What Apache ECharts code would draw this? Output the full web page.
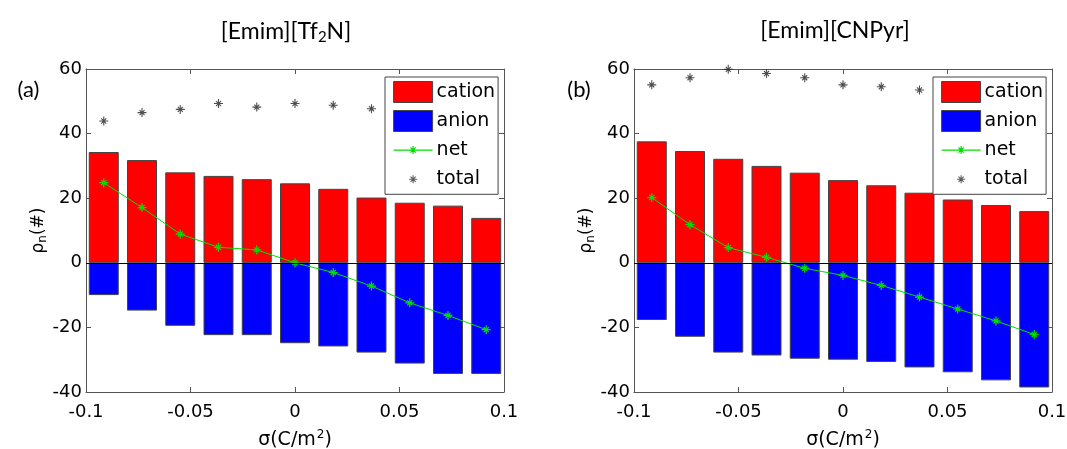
<!DOCTYPE html>
<html>
<head>
<meta charset="utf-8">
<script src="https://cdn.jsdelivr.net/npm/echarts@6/dist/echarts.min.js"></script>
<style>html,body{margin:0;padding:0;background:#fff}#c{width:1067px;height:449px}</style>
</head>
<body>
<div id="c"></div>
<script>
// ---- data ----
const sigma = [-0.0915, -0.0732, -0.0549, -0.0366, -0.0183, 0, 0.0183, 0.0366, 0.0549, 0.0732, 0.0915];

const cationA = [34.3, 31.8, 28.0, 26.9, 25.9, 24.6, 22.9, 20.2, 18.6, 17.7, 13.9];
const anionA  = [-10.0, -14.8, -19.5, -22.4, -22.4, -24.9, -25.9, -27.8, -31.2, -34.4, -34.4];
const netA    = [24.8, 17.1, 8.9, 4.8, 4.0, 0.0, -3.0, -7.2, -12.4, -16.3, -20.7];
const totalA  = [43.9, 46.5, 47.5, 49.3, 48.2, 49.3, 48.8, 47.7, null, null, null];

const cationB = [37.6, 34.6, 32.2, 30.0, 27.9, 25.6, 24.0, 21.7, 19.6, 17.9, 16.0];
const anionB  = [-17.7, -22.9, -27.8, -28.7, -29.7, -30.0, -30.7, -32.4, -33.9, -36.4, -38.6];
const netB    = [20.2, 11.8, 4.7, 1.7, -1.7, -3.9, -7.0, -10.6, -14.3, -18.0, -22.2];
const totalB  = [55.1, 57.3, 59.9, 58.6, 57.3, 55.1, 54.5, 53.5, null, null, null];

const xTicks = {min: -0.1, max: 0.1, interval: 0.05};
const yTicks = {min: -40, max: 60, interval: 20};
const titles = ['[Emim][Tf{sub|2}N]', '[Emim][CNPyr]'];
const panelLabels = ['(a)', '(b)'];
const seriesNames = ['cation', 'anion', 'net', 'total'];

// ---- chart ----
const pair = (ys) => sigma.map((x, i) => [x, ys[i]]);
const ASTER = 'path://M5,0L5,10M0,5L10,5M2.2,2.2L7.8,7.8M7.8,2.2L2.2,7.8';
const NET_ICON = 'path://M0,0M39,21M0,10.5L39,10.5M19.5,6.5L19.5,14.5M15.5,10.5L23.5,10.5M16.9,7.9L22.1,13.1M22.1,7.9L16.9,13.1';
const TOT_ICON = 'path://M0,0M39,21M19.5,6.5L19.5,14.5M15.5,10.5L23.5,10.5M16.9,7.9L22.1,13.1M22.1,7.9L16.9,13.1';
const RED = '#ff0000', BLUE = '#0000ff', GREEN = '#00e000', FRAME = '#555';
const TICKFONT = 'DejaVu Sans';
const tickFont = {fontFamily: TICKFONT, fontSize: 18, color: '#000'};

const grids = [
  {left: 86, top: 69, width: 418, height: 323, containLabel: false, outerBoundsMode: 'none'},
  {left: 634, top: 69, width: 418, height: 323, containLabel: false, outerBoundsMode: 'none'}
];

const xAxes = [], yAxes = [];
grids.forEach((g, gi) => {
  ['bottom', 'top'].forEach((pos) => {
    const main = pos === 'bottom';
    xAxes.push({
      type: 'value', gridIndex: gi, position: pos, ...xTicks,
      axisLine: {show: true, onZero: false, lineStyle: {color: FRAME, width: 1}},
      axisTick: {show: true, inside: true, length: 5, lineStyle: {color: FRAME}},
      axisLabel: {show: main, margin: 11, ...tickFont},
      splitLine: {show: false},
      name: main ? '{a|σ(C/m}{sup|2}{a|)}' : '',
      nameLocation: 'middle', nameGap: 37,
      nameTextStyle: {fontFamily: TICKFONT, fontSize: 19, color: '#000',
        rich: {a: {fontFamily: TICKFONT, fontSize: 19, color: '#000'},
               sup: {fontFamily: TICKFONT, fontSize: 12, color: '#000', padding: [0, 0, 11, 1]}}}
    });
  });
  ['left', 'right'].forEach((pos) => {
    const main = pos === 'left';
    yAxes.push({
      type: 'value', gridIndex: gi, position: pos, ...yTicks,
      axisLine: {show: true, onZero: false, lineStyle: {color: FRAME, width: 1}},
      axisTick: {show: true, inside: true, length: 5, lineStyle: {color: FRAME}},
      axisLabel: {show: main, margin: 4, ...tickFont},
      splitLine: {show: false},
      name: main ? '{a|ρ}{sub|n}{a|(#)}' : '',
      nameLocation: 'middle', nameGap: 30, nameRotate: 90,
      nameTextStyle: {fontFamily: TICKFONT, fontSize: 17, color: '#000',
        rich: {a: {fontFamily: TICKFONT, fontSize: 17, color: '#000'},
               sub: {fontFamily: TICKFONT, fontSize: 12, color: '#000', padding: [9, 0, 0, 0]}}}
    });
  });
});

const series = [];
[[cationA, anionA, netA, totalA], [cationB, anionB, netB, totalB]].forEach((d, gi) => {
  const xi = gi * 2, yi = gi * 2;
  series.push({
    name: 'cation', type: 'bar', xAxisIndex: xi, yAxisIndex: yi, data: pair(d[0]),
    barWidth: 30, barGap: '-100%',
    itemStyle: {color: RED, borderColor: '#444', borderWidth: 1},
    markLine: {silent: true, symbol: 'none', label: {show: false},
      lineStyle: {color: '#000', width: 1, type: 'solid'}, data: [{yAxis: 0}]},
    z: 2
  });
  series.push({
    name: 'anion', type: 'bar', xAxisIndex: xi, yAxisIndex: yi, data: pair(d[1]),
    barWidth: 30, barGap: '-100%',
    itemStyle: {color: BLUE, borderColor: '#444', borderWidth: 1}, z: 2
  });
  series.push({
    name: 'net', type: 'line', xAxisIndex: xi, yAxisIndex: yi, data: pair(d[2]),
    symbol: ASTER, symbolSize: 9, showSymbol: true,
    lineStyle: {color: GREEN, width: 1},
    itemStyle: {color: GREEN, borderColor: GREEN, borderWidth: 1.2}, z: 4
  });
  series.push({
    name: 'total', type: 'scatter', xAxisIndex: xi, yAxisIndex: yi, data: pair(d[3]),
    symbol: ASTER, symbolSize: 9,
    itemStyle: {color: '#222', borderColor: '#222', borderWidth: 1.1}, z: 4
  });
});

const legendData = [
  {name: 'cation', icon: 'rect', itemStyle: {color: RED, borderColor: '#444', borderWidth: 1}},
  {name: 'anion', icon: 'rect', itemStyle: {color: BLUE, borderColor: '#444', borderWidth: 1}},
  {name: 'net', icon: NET_ICON, itemStyle: {color: GREEN, borderColor: GREEN, borderWidth: 1.2}},
  {name: 'total', icon: TOT_ICON, itemStyle: {color: '#333', borderColor: '#333', borderWidth: 1.1}}
];
const legendBase = {
  orient: 'vertical', top: 77, itemWidth: 39, itemHeight: 21, itemGap: 7,
  padding: [4, 3, 4, 8], borderColor: '#444', borderWidth: 1, backgroundColor: '#fff',
  selectedMode: false, textStyle: {fontFamily: TICKFONT, fontSize: 19, color: '#000', padding: [0, 0, 0, -1]},
  data: legendData, z: 10
};

const titleStyle = {fontFamily: 'Lato', fontSize: 23, fontWeight: 'normal', color: '#000',
  rich: {sub: {fontFamily: 'Lato', fontSize: 15, color: '#000', padding: [11, 0, 0, 0]}}};
const labelStyle = {fontFamily: 'Lato', fontSize: 22, fontWeight: 'normal', color: '#000'};

const option = {
  animation: false,
  backgroundColor: '#fff',
  title: [
    {text: titles[0], left: 281, top: 14, textAlign: 'center', textStyle: titleStyle},
    {text: titles[1], left: 830, top: 14, textAlign: 'center', textStyle: titleStyle},
    {text: panelLabels[0], left: 23.5, top: 74, textAlign: 'center', textStyle: labelStyle},
    {text: panelLabels[1], left: 574, top: 74, textAlign: 'center', textStyle: labelStyle}
  ],
  legend: [
    {...legendBase, left: 385},
    {...legendBase, left: 933}
  ],
  grid: grids,
  xAxis: xAxes,
  yAxis: yAxes,
  series: series
};

const chart = echarts.init(document.getElementById('c'), null, {renderer: 'canvas'});
chart.setOption(option);
</script>
</body>
</html>
